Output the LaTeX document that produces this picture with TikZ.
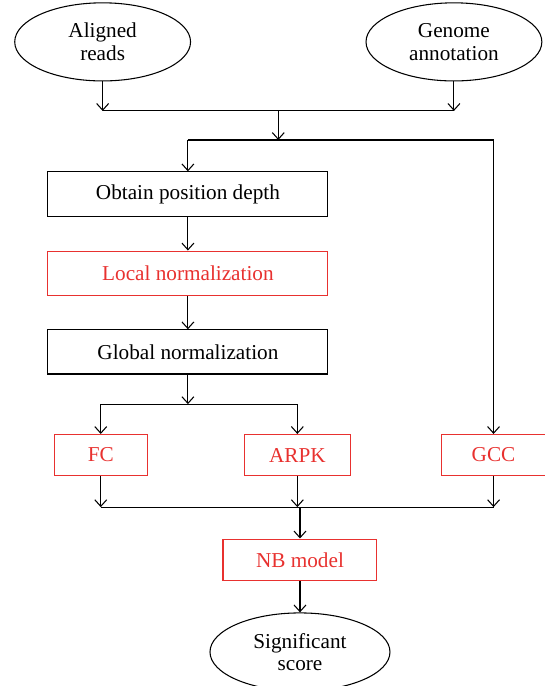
\documentclass[tikz,border=0pt]{standalone}
\usepackage{fontspec}
\setmainfont{Liberation Serif}
\usetikzlibrary{positioning,arrows.meta,shapes.geometric,calc}
\definecolor{stepred}{HTML}{E8312F}

\begin{document}
\begin{tikzpicture}[
    every node/.style={font=\fontsize{16}{17}\selectfont},
    inout/.style={
        draw, ellipse, line width=0.8pt, align=center, inner sep=0pt,
        minimum width=4.66cm, minimum height=2.07cm
    },
    plainbox/.style={
        draw, line width=0.8pt,
        minimum width=7.42cm, minimum height=1.17cm
    },
    redbox/.style={
        draw=stepred, text=stepred, line width=0.8pt,
        minimum width=#1, minimum height=1.09cm
    },
    arr/.style={-{Straight Barb[length=5pt, width=9pt]}, line width=0.8pt},
    link/.style={line width=0.8pt},
]
\useasboundingbox (0,0) rectangle (14.42,-18.18);

% === Inputs ===
\node[inout] (reads) at (2.72,-1.11) {Aligned\\reads};
\node[inout] (genome) at (12.03,-1.11) {Genome\\annotation};

% === Main column ===
\node[plainbox] (depth) at (4.98,-5.14) {Obtain position depth};
\node[redbox=7.42cm, minimum height=1.19cm, below=0.90cm of depth] (local) {Local normalization};
\node[plainbox, below=0.87cm of local] (global) {Global normalization};

% === Scores ===
\node[redbox=2.46cm] (fc) at (2.67,-12.06) {FC};
\node[redbox=2.81cm] (arpk) at (7.88,-12.06) {ARPK};
\node[redbox=2.76cm] (gcc) at (13.08,-12.06) {GCC};

% === Model and output ===
\node[redbox=4.08cm, minimum height=1.11cm] (nb) at (7.95,-14.84) {NB model};
\node[inout, minimum width=4.77cm, below=0.82cm of nb] (score) {Significant\\score};

% Junction levels
\coordinate (joinin) at (0,-2.94);
\coordinate (splitin) at (0,-3.71);
\coordinate (splitfc) at (0,-10.71);
\coordinate (joinout) at (0,-13.44);

% Inputs merge
\draw[arr] (reads.south) -- (reads.south |- joinin);
\draw[arr] (genome.south) -- (genome.south |- joinin);
\draw[link] (reads.south |- joinin) -- (genome.south |- joinin);
\coordinate (joinmid) at ($(reads.south |- joinin)!0.5!(genome.south |- joinin)$);
\draw[arr] (joinmid) -- (joinmid |- splitin);

% Split to depth and GCC
\draw[link] (depth.north |- splitin) -- (gcc.north |- splitin);
\draw[arr] (depth.north |- splitin) -- (depth.north);
\draw[arr] (gcc.north |- splitin) -- (gcc.north);

\draw[arr] (depth) -- (local);
\draw[arr] (local) -- (global);

% Split to FC and ARPK
\draw[arr] (global.south) -- (global.south |- splitfc);
\draw[link] (fc.north |- splitfc) -- (arpk.north |- splitfc);
\draw[arr] (fc.north |- splitfc) -- (fc.north);
\draw[arr] (arpk.north |- splitfc) -- (arpk.north);

% Scores merge
\draw[arr] (fc.south) -- (fc.south |- joinout);
\draw[arr] (arpk.south) -- (arpk.south |- joinout);
\draw[arr] (gcc.south) -- (gcc.south |- joinout);
\draw[link] (fc.south |- joinout) -- (gcc.south |- joinout);
\draw[arr] (nb.north |- joinout) -- (nb.north);

\draw[arr] (nb) -- (score);

\end{tikzpicture}
\end{document}
